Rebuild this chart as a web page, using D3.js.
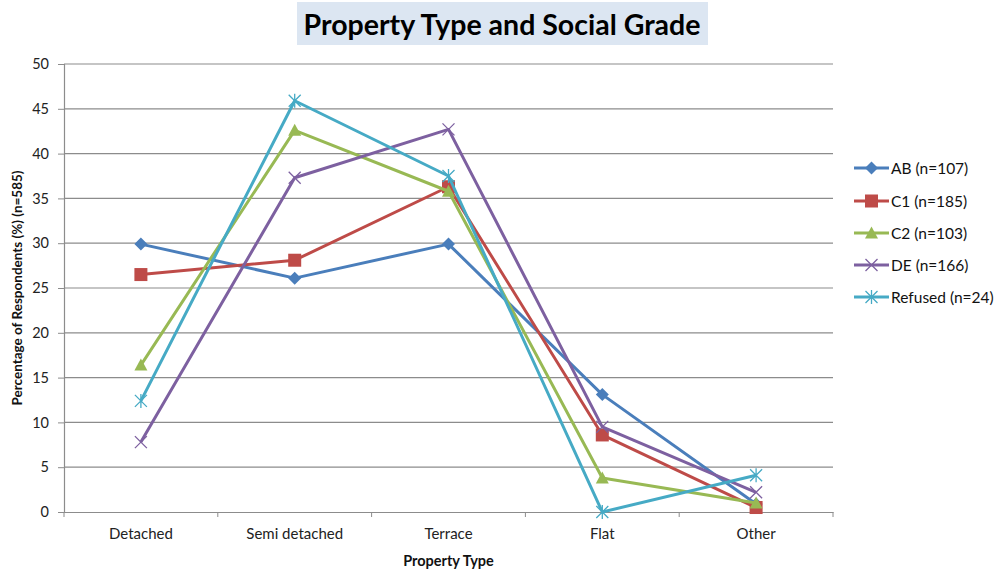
<!DOCTYPE html>
<html>
<head>
<meta charset="utf-8">
<script src="https://cdn.jsdelivr.net/npm/d3@7/dist/d3.min.js"></script>
<style>
  html, body { margin: 0; padding: 0; background: #fff; }
  svg { display: block; font-family: Lato, "Open Sans", sans-serif; }
</style>
</head>
<body>
<svg id="chart" width="1001" height="572"></svg>
<script>
// Property types along the x axis
const categories = ["Detached", "Semi detached", "Terrace", "Flat", "Other"];

// Share of respondents (%) by social grade
const seriesNames = ["AB (n=107)", "C1 (n=185)", "C2 (n=103)", "DE (n=166)", "Refused (n=24)"];
const abValues      = [29.9, 26.1, 29.9, 13.1, 0.9];
const c1Values      = [26.5, 28.1, 36.3, 8.6, 0.5];
const c2Values      = [16.4, 42.6, 35.8, 3.8, 1.0];
const deValues      = [7.8, 37.3, 42.7, 9.5, 2.2];
const refusedValues = [12.4, 45.9, 37.5, 0.0, 4.1];

const yTicks = [0, 5, 10, 15, 20, 25, 30, 35, 40, 45, 50];

const colors  = ["#4A7EBB", "#BE4B48", "#98B954", "#7D60A0", "#46AAC5"];
const markers = ["diamond", "square", "triangle", "cross", "star"];

const series = seriesNames.map((name, i) => ({
  name,
  values: [abValues, c1Values, c2Values, deValues, refusedValues][i],
  color: colors[i],
  marker: markers[i]
}));

const svg = d3.select("#chart");
const margin = { left: 64, right: 168, top: 64, bottom: 60 };
const W = 1001, H = 572;

const x = d3.scaleBand().domain(categories).range([margin.left, W - margin.right]);
const y = d3.scaleLinear().domain([0, 50]).range([H - margin.bottom, margin.top]);
const cx = d => x(d) + x.bandwidth() / 2;

// Title box
const titleG = svg.append("g");
titleG.append("rect")
  .attr("x", 297).attr("y", 2).attr("width", 411).attr("height", 43)
  .attr("fill", "#DCE6F2");
titleG.append("text")
  .attr("x", 502).attr("y", 35)
  .attr("text-anchor", "middle")
  .attr("font-size", 28.5).attr("font-weight", "bold")
  .attr("fill", "#000")
  .text("Property Type and Social Grade");

// Horizontal gridlines
svg.append("g")
  .selectAll("line")
  .data(yTicks.filter(t => t > 0))
  .join("line")
  .attr("x1", margin.left).attr("x2", W - margin.right)
  .attr("y1", d => y(d)).attr("y2", d => y(d))
  .attr("stroke", "#8C8C8C").attr("stroke-width", 1.2);

// Y axis
const yAxis = svg.append("g")
  .attr("transform", `translate(${margin.left},0)`)
  .call(d3.axisLeft(y).tickValues(yTicks).tickSize(6).tickPadding(9));
yAxis.select(".domain").attr("stroke", "#8C8C8C").attr("stroke-width", 1.2);
yAxis.selectAll(".tick line").attr("stroke", "#8C8C8C");
yAxis.selectAll("text").attr("font-size", 14.5).attr("fill", "#222")
  .attr("font-family", "Lato, sans-serif");

// X axis with ticks at category boundaries
const xAxis = svg.append("g")
  .attr("transform", `translate(0,${y(0)})`)
  .call(d3.axisBottom(x).tickSize(0).tickPadding(16));
xAxis.select(".domain").attr("stroke", "#8C8C8C").attr("stroke-width", 1.2);
xAxis.selectAll("text").attr("font-size", 15).attr("fill", "#222")
  .attr("font-family", "Lato, sans-serif");
xAxis.selectAll(".boundary")
  .data(d3.range(categories.length + 1))
  .join("line")
  .attr("class", "boundary")
  .attr("x1", i => margin.left + i * x.bandwidth())
  .attr("x2", i => margin.left + i * x.bandwidth())
  .attr("y1", 0).attr("y2", 5)
  .attr("stroke", "#8C8C8C");

// Axis titles
svg.append("text")
  .attr("x", cx(categories[2])).attr("y", 566)
  .attr("text-anchor", "middle")
  .attr("font-size", 14.5).attr("font-weight", "bold").attr("fill", "#111")
  .text("Property Type");
svg.append("text")
  .attr("transform", `translate(22,${(y(0) + y(50)) / 2}) rotate(-90)`)
  .attr("text-anchor", "middle")
  .attr("font-size", 13.5).attr("font-weight", "bold").attr("fill", "#111")
  .text("Percentage of Respondents (%) (n=585)");

// Marker drawing
function drawMarker(g, type, color) {
  if (type === "diamond") {
    g.append("path").attr("d", "M0,-6.5L6.5,0L0,6.5L-6.5,0Z").attr("fill", color);
  } else if (type === "square") {
    g.append("rect").attr("x", -6.5).attr("y", -6.5).attr("width", 13).attr("height", 13).attr("fill", color);
  } else if (type === "triangle") {
    g.append("path").attr("d", "M0,-6.5L6.5,5.5L-6.5,5.5Z").attr("fill", color);
  } else if (type === "cross") {
    g.append("path").attr("d", "M-6,-6L6,6M-6,6L6,-6")
      .attr("stroke", color).attr("stroke-width", 1.3).attr("fill", "none");
  } else if (type === "star") {
    g.append("path").attr("d", "M-6,-6L6,6M-6,6L6,-6M0,-7L0,7")
      .attr("stroke", color).attr("stroke-width", 1.3).attr("fill", "none");
  }
}

const line = d3.line()
  .x((d, i) => cx(categories[i]))
  .y(d => y(d));

const plot = svg.append("g");
series.forEach(s => {
  plot.append("path")
    .attr("d", line(s.values))
    .attr("fill", "none")
    .attr("stroke", s.color)
    .attr("stroke-width", 3)
    .attr("stroke-linejoin", "round");
  s.values.forEach((v, i) => {
    const g = plot.append("g").attr("transform", `translate(${cx(categories[i])},${y(v)})`);
    drawMarker(g, s.marker, s.color);
  });
});

// Legend
const legend = svg.append("g");
const legendY = [168, 201, 233, 265, 297];
series.forEach((s, i) => {
  const g = legend.append("g").attr("transform", `translate(854,${legendY[i]})`);
  g.append("line").attr("x1", 0).attr("x2", 35).attr("y1", 0).attr("y2", 0)
    .attr("stroke", s.color).attr("stroke-width", 3);
  const m = g.append("g").attr("transform", "translate(17.5,0)");
  drawMarker(m, s.marker, s.color);
  g.append("text").attr("x", 37).attr("y", 5.5)
    .attr("font-size", 15.5).attr("fill", "#111")
    .text(s.name);
});
</script>
</body>
</html>
